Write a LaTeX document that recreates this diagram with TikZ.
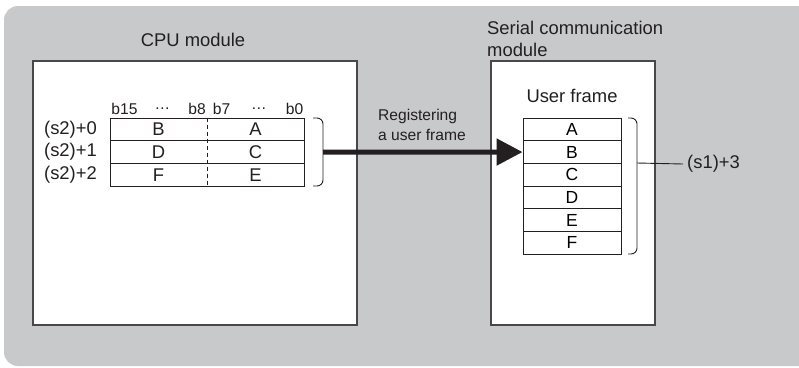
\documentclass[tikz,border=0pt]{standalone}
\usepackage{fontspec}
\setmainfont{Liberation Sans}
\usetikzlibrary{arrows.meta}

\definecolor{bggray}{HTML}{C8C9CB}
\definecolor{inkgray}{HTML}{231F20}
\definecolor{linegray}{HTML}{48484A}

\tikzset{
  module/.style={draw=linegray,line width=1.4pt,fill=white,inner sep=0pt},
  cell/.style={draw=inkgray,line width=0.9pt,fill=white,inner sep=0pt,
    minimum height=22.7pt,font=\fontsize{17.5}{20}\selectfont},
  lbl/.style={text=inkgray,font=\fontsize{18.4}{22}\selectfont,inner sep=0pt},
  small/.style={text=inkgray,font=\fontsize{15.6}{20}\selectfont,inner sep=0pt},
  brace/.style={draw=inkgray,line width=0.9pt,rounded corners=6pt}
}

\begin{document}
\begin{tikzpicture}[x=1pt,y=-1pt]
\useasboundingbox (0,0) rectangle (799,367);

% Background
\fill[bggray,rounded corners=14pt] (4,6) rectangle (815,366);

% Modules
\node[module,minimum width=324pt,minimum height=264pt] (cpu) at (195,193) {};
\node[module,minimum width=164pt,minimum height=264pt] (sci) at (573,193) {};

% Titles
\node[lbl] (cputitle) at (193,40) {CPU module};
\node[lbl,anchor=west,align=left] (scititle) at (487,39)
  {Serial communication\\module};
\node[lbl] (uftitle) at (572,96) {User frame};

% Bit headers
\node[small] (h15) at (124.5,109) {b15};
\node[small] (hd1) at (162.5,109) {…};
\node[small] (h8) at (197,109) {b8};
\node[small] (h7) at (221.5,109) {b7};
\node[small] (hd2) at (259,109) {…};
\node[small] (h0) at (294.5,109) {b0};

% CPU table
\node[cell,minimum width=194pt] (r0) at (207,129.35) {};
\node[cell,minimum width=194pt] (r1) at (207,152) {};
\node[cell,minimum width=194pt] (r2) at (207,174.7) {};
\draw[inkgray,line width=0.9pt,dash pattern=on 4pt off 3pt] (r0.north) -- (r2.south);

\node[lbl] (b) at (158.5,129.35) {B};
\node[lbl] (a) at (255.5,129.35) {A};
\node[lbl] (d) at (158.5,152) {D};
\node[lbl] (c) at (255.5,152) {C};
\node[lbl] (f) at (158.5,174.7) {F};
\node[lbl] (e) at (255.5,174.7) {E};

% Row labels
\node[lbl,anchor=east] (s0) at (97,129.35) {(s2)+0};
\node[lbl,anchor=east] (s1) at (97,152) {(s2)+1};
\node[lbl,anchor=east] (s2) at (97,174.7) {(s2)+2};

% User frame table
\foreach \t [count=\i from 0] in {A,B,C,D,E,F}
  \node[cell,minimum width=98pt] (u\t) at (572,129.35+22.7*\i) {\t};

% Brackets
\draw[brace] (313,118) -- (323,118) -- (323,186) -- (313,186);
\draw[brace] (628,118) -- (637,118) -- (637,254) -- (628,254);
\coordinate (cpubr) at (323,152);
\coordinate (ufbr) at (637,163);

% Transfer arrow
\draw[inkgray,line width=5pt,-{Triangle[length=26pt,width=26pt]}] (cpubr) -- (uB.west);
\node[small,anchor=west,align=left] (reg) at (378,125)
  {Registering\\a user frame};

% Size label
\node[lbl,anchor=west] (size) at (687,164) {(s1)+3};
\draw[inkgray,line width=0.9pt] (ufbr) -- (size.west -| 683,0);

\end{tikzpicture}
\end{document}
